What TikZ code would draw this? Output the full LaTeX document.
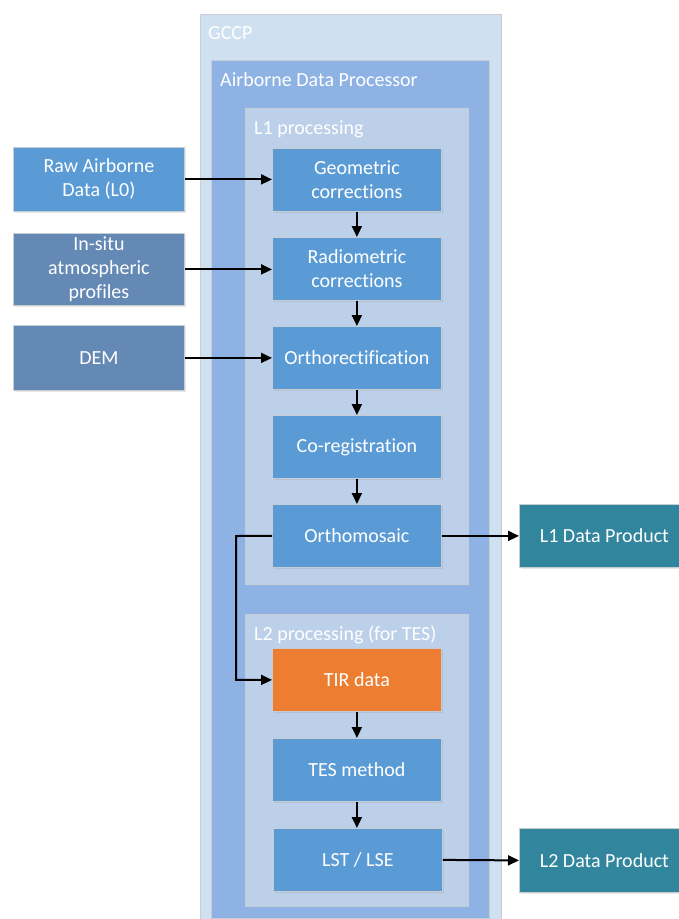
\documentclass[tikz,border=0pt]{standalone}
\usepackage{fontspec}
\setmainfont{Carlito}[Ligatures={NoCommon,NoDiscretionary}]
\usetikzlibrary{arrows.meta,shadows}
\definecolor{gccp}{HTML}{CFE0F1}
\definecolor{adp}{HTML}{8EB2E3}
\definecolor{lproc}{HTML}{BCD0E9}
\definecolor{stepblue}{HTML}{5B9BD5}
\definecolor{grayblue}{HTML}{6589B5}
\definecolor{teal}{HTML}{31859C}
\definecolor{orange}{HTML}{ED7D31}
\definecolor{edge}{HTML}{C8CDD3}
\tikzset{
  container/.style={draw=edge, line width=0.8pt, anchor=north west, inner sep=0pt},
  pbox/.style={draw=edge, line width=0.8pt, text=white, align=center, anchor=north west,
    inner sep=0pt, font=\fontsize{20}{24}\selectfont,
    drop shadow={shadow xshift=1.5pt, shadow yshift=-2pt, opacity=0.18}},
  title/.style={text=white, anchor=west, inner sep=0pt, font=\fontsize{20}{24}\selectfont},
  conn/.style={line width=2pt, -{Triangle[length=11pt,width=10pt]}}
}
\begin{document}
\begin{tikzpicture}[x=1pt,y=-1pt]
\useasboundingbox (0,0) rectangle (679,919);
% containers
\node[container, fill=gccp, minimum width=301pt, minimum height=920pt] (gccp) at (200,14) {};
\node[container, fill=adp, minimum width=278pt, minimum height=858pt] (adp) at (211,60) {};
\node[container, fill=lproc, minimum width=223pt, minimum height=476pt] (l1p) at (245,108) {};
\node[container, fill=lproc, minimum width=223pt, minimum height=292pt] (l2p) at (245,614) {};
\node[title] (tgccp) at (208,33) {GCCP};
\node[title] (tadp) at (220,80) {Airborne Data Processor};
\node[title] (tl1) at (254,129) {L1 processing};
\node[title] (tl2) at (254,635) {L2 processing (for TES)};
% inner steps
\node[pbox, fill=stepblue, minimum width=169pt, minimum height=63pt] (geo) at (272,148) {Geometric\\corrections};
\node[pbox, fill=stepblue, minimum width=169pt, minimum height=63pt] (rad) at (272,237) {Radiometric\\corrections};
\node[pbox, fill=stepblue, minimum width=169pt, minimum height=63pt] (ortho) at (272,326) {Orthorectification};
\node[pbox, fill=stepblue, minimum width=169pt, minimum height=63pt] (coreg) at (272,415) {Co-registration};
\node[pbox, fill=stepblue, minimum width=169pt, minimum height=63pt] (mosaic) at (272,504) {Orthomosaic};
\node[pbox, fill=orange, minimum width=169pt, minimum height=63pt] (tir) at (272,648) {TIR data};
\node[pbox, fill=stepblue, minimum width=169pt, minimum height=63pt] (tes) at (272,738) {TES method};
\node[pbox, fill=stepblue, minimum width=169pt, minimum height=63pt] (lst) at (273,828) {LST / LSE};
% inputs
\node[pbox, fill=stepblue, minimum width=171pt, minimum height=64pt] (raw) at (13,147) {Raw Airborne\\Data (L0)};
\node[pbox, fill=grayblue, minimum width=171pt, minimum height=72pt] (insitu) at (13,233) {In-situ\\atmospheric\\profiles};
\node[pbox, fill=grayblue, minimum width=171pt, minimum height=65pt] (dem) at (13,325) {DEM};
% outputs
\node[pbox, fill=teal, minimum width=170pt, minimum height=63pt] (l1dp) at (519,504) {L1 Data Product};
\node[pbox, fill=teal, minimum width=170pt, minimum height=64pt] (l2dp) at (519,828) {L2 Data Product};
\coordinate (bend) at (236,536);
% connectors
\draw[conn] (raw.east) -- (geo.west |- raw.east);
\draw[conn] (insitu.east) -- (rad.west |- insitu.east);
\draw[conn] (dem.east) -- (ortho.west |- dem.east);
\draw[conn] (geo.south) -- (rad.north);
\draw[conn] (rad.south) -- (ortho.north);
\draw[conn] (ortho.south) -- (coreg.north);
\draw[conn] (coreg.south) -- (mosaic.north);
\draw[conn] (mosaic.east) -- (l1dp.west);
\draw[conn] (mosaic.west) -- (bend) |- (tir.west);
\draw[conn] (tir.south) -- (tes.north);
\draw[conn] (tes.south) -- (tes.south |- lst.north);
\draw[conn] (lst.east) -- (l2dp.west);
\end{tikzpicture}
\end{document}
